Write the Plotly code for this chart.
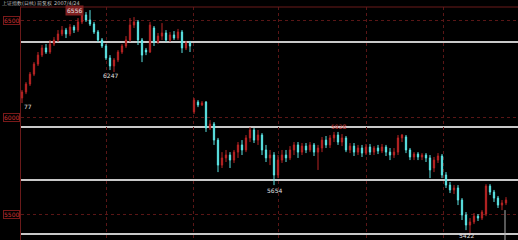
import plotly.graph_objects as go

# candle index (one per bar)
open_ = [6103,6134,6175,6226,6278,6324,6361,6340,6381,6402,6433,6453,6433,6469,6453,6495,6531,6505,6484,6443,
         6402,6371,6309,6268,6299,6340,6371,6402,6479,6495,6402,6350,6340,6464,6392,6422,6438,6402,6428,6412,
         6443,6361,6386,6031,6082,6067,6082,5948,5969,5886,5757,5794,5809,5783,5824,5861,5835,5897,5938,5886,
         5912,5835,5794,5809,5706,5783,5809,5794,5835,5861,5824,5855,5835,5861,5824,5845,5886,5861,5897,5912,
         5876,5897,5835,5855,5824,5845,5819,5850,5824,5845,5830,5850,5824,5809,5824,5897,5902,5835,5799,5814,
         5799,5809,5794,5742,5783,5804,5706,5654,5629,5639,5577,5500,5448,5464,5494,5484,5505,5649,5618,5587,
         5551,5562]
high = [6144,6185,6237,6288,6340,6376,6381,6402,6417,6453,6474,6464,6484,6479,6515,6551,6546,6556,6495,6453,
        6412,6381,6324,6309,6350,6381,6422,6515,6520,6505,6412,6361,6495,6474,6438,6489,6453,6443,6448,6459,
        6453,6397,6397,6103,6092,6087,6087,5989,5979,5897,5824,5835,5824,5835,5876,5886,5912,5953,5948,5938,
        5922,5861,5835,5824,5809,5835,5835,5855,5876,5876,5871,5871,5876,5871,5861,5902,5907,5912,5928,5928,
        5917,5907,5871,5871,5861,5861,5866,5866,5855,5861,5866,5861,5845,5845,5912,5917,5912,5845,5824,5824,
        5819,5819,5809,5799,5819,5814,5721,5670,5654,5654,5587,5515,5484,5510,5505,5525,5659,5659,5629,5598,
        5577,5592]
low = [6077,6123,6165,6216,6268,6314,6330,6330,6371,6392,6422,6412,6422,6438,6443,6484,6495,6474,6433,6392,
       6361,6299,6247,6237,6288,6330,6361,6392,6464,6376,6288,6324,6335,6371,6381,6402,6392,6392,6402,6402,
       6335,6350,6340,6020,6056,6062,5928,5938,5861,5721,5742,5773,5742,5768,5794,5809,5824,5876,5871,5861,
       5809,5773,5757,5654,5690,5768,5773,5783,5809,5794,5809,5819,5824,5804,5732,5824,5845,5845,5876,5861,
       5855,5824,5819,5804,5809,5799,5809,5809,5809,5814,5819,5804,5783,5794,5809,5876,5819,5783,5783,5783,
       5783,5773,5690,5721,5768,5690,5639,5613,5608,5551,5474,5422,5407,5453,5469,5474,5494,5603,5567,5536,
       5525,5551]
close = [6134,6175,6226,6278,6324,6361,6340,6381,6402,6433,6453,6433,6469,6453,6495,6531,6505,6484,6443,6402,
         6371,6309,6268,6299,6340,6371,6402,6479,6495,6402,6324,6340,6479,6392,6422,6438,6402,6428,6412,6443,
         6361,6386,6371,6092,6067,6077,5948,5969,5886,5757,5794,5809,5783,5824,5861,5835,5897,5938,5886,5912,
         5835,5794,5809,5706,5783,5809,5794,5835,5861,5824,5855,5835,5861,5824,5845,5886,5861,5897,5912,5876,
         5897,5835,5855,5824,5845,5819,5850,5824,5845,5830,5850,5824,5809,5824,5897,5912,5835,5799,5814,5799,
         5809,5794,5732,5783,5804,5706,5654,5629,5639,5577,5500,5448,5464,5494,5484,5515,5649,5618,5587,5551,
         5562,5577]
idx = list(range(len(close)))

price_ticks = [6500, 6000, 5500]
session_breaks = [21, 42.75, 64, 86, 105.25]
drawn_levels = [6392, 5953, 5680, 5402]
cursor_x = 120.75
cursor_top = 5525

# labelled extremes: (candle index, which series)
marks = [(17, "high"), (22, "low"), (0, "low"), (63, "low"), (79, "high"), (111, "low")]

title_text = "上证指数(日线) 前复权 2007/4/24"

fig = go.Figure(go.Candlestick(
    x=idx, open=open_, high=high, low=low, close=close,
    increasing=dict(line=dict(color="#b82424", width=1), fillcolor="#b82424"),
    decreasing=dict(line=dict(color="#5ce6e6", width=1), fillcolor="#5ce6e6"),
    whiskerwidth=0, showlegend=False, hoverinfo="skip"))

for lv in drawn_levels:
    fig.add_shape(type="line", xref="paper", x0=0, x1=1, yref="y", y0=lv, y1=lv,
                  line=dict(color="#c8c8c8", width=2), layer="below")
fig.add_shape(type="line", xref="x", x0=cursor_x, x1=cursor_x, yref="y", y0=cursor_top, y1=5300,
              line=dict(color="#b0b0b0", width=1))
fig.add_shape(type="line", xref="paper", x0=-0.002, x1=1, yref="paper", y0=1, y1=1,
              line=dict(color="#6a1a1a", width=1))

for i, kind in marks:
    v = high[i] if kind == "high" else low[i]
    if i == 17:
        fig.add_annotation(x=i - 1.5, y=v, text=f"{v}", showarrow=False, xanchor="right",
                           yanchor="middle", font=dict(size=6, color="#e0e0e0"), bgcolor="#802020")
    elif i == 0:
        fig.add_annotation(x=i, y=v, text=str(v)[-2:], showarrow=False, xanchor="left",
                           yanchor="top", font=dict(size=6, color="#e0e0e0"), yshift=2)
    else:
        fig.add_annotation(x=i, y=v, text=f"{v}", showarrow=False, xanchor="center",
                           yanchor="top" if kind == "low" else "bottom",
                           font=dict(size=6, color="#d04040" if kind == "high" else "#e0e0e0"))

for t in price_ticks:
    fig.add_annotation(xref="paper", x=0, y=t, text=str(t), showarrow=False, xanchor="right",
                       yanchor="middle", font=dict(size=6, color="#d03030"),
                       bordercolor="#7a1a1a", borderwidth=1, borderpad=0, xshift=-1)

fig.add_annotation(xref="paper", yref="paper", x=-0.04, y=1, text=title_text, showarrow=False,
                   xanchor="left", yanchor="bottom", font=dict(size=5, color="#c0c0c0"),
                   borderpad=0, yshift=0)

fig.update_layout(
    width=518, height=240, margin=dict(l=21, r=0, t=7, b=0),
    paper_bgcolor="#000000", plot_bgcolor="#000000",
    font=dict(family="DejaVu Sans"),
    boxgap=0.55,
    xaxis=dict(range=[-0.25, 124], rangeslider=dict(visible=False), tickvals=session_breaks,
               showticklabels=False, showgrid=True, gridcolor="#5a1616", griddash="dot", gridwidth=1,
               zeroline=False, showline=False, ticks=""),
    yaxis=dict(range=[5371, 6572], tickvals=price_ticks, showticklabels=False, showgrid=True,
               gridcolor="#5a1616", griddash="dot", gridwidth=1, zeroline=False,
               showline=True, linecolor="#6a1a1a", linewidth=1, ticks=""),
)

fig.write_html("out.html")
